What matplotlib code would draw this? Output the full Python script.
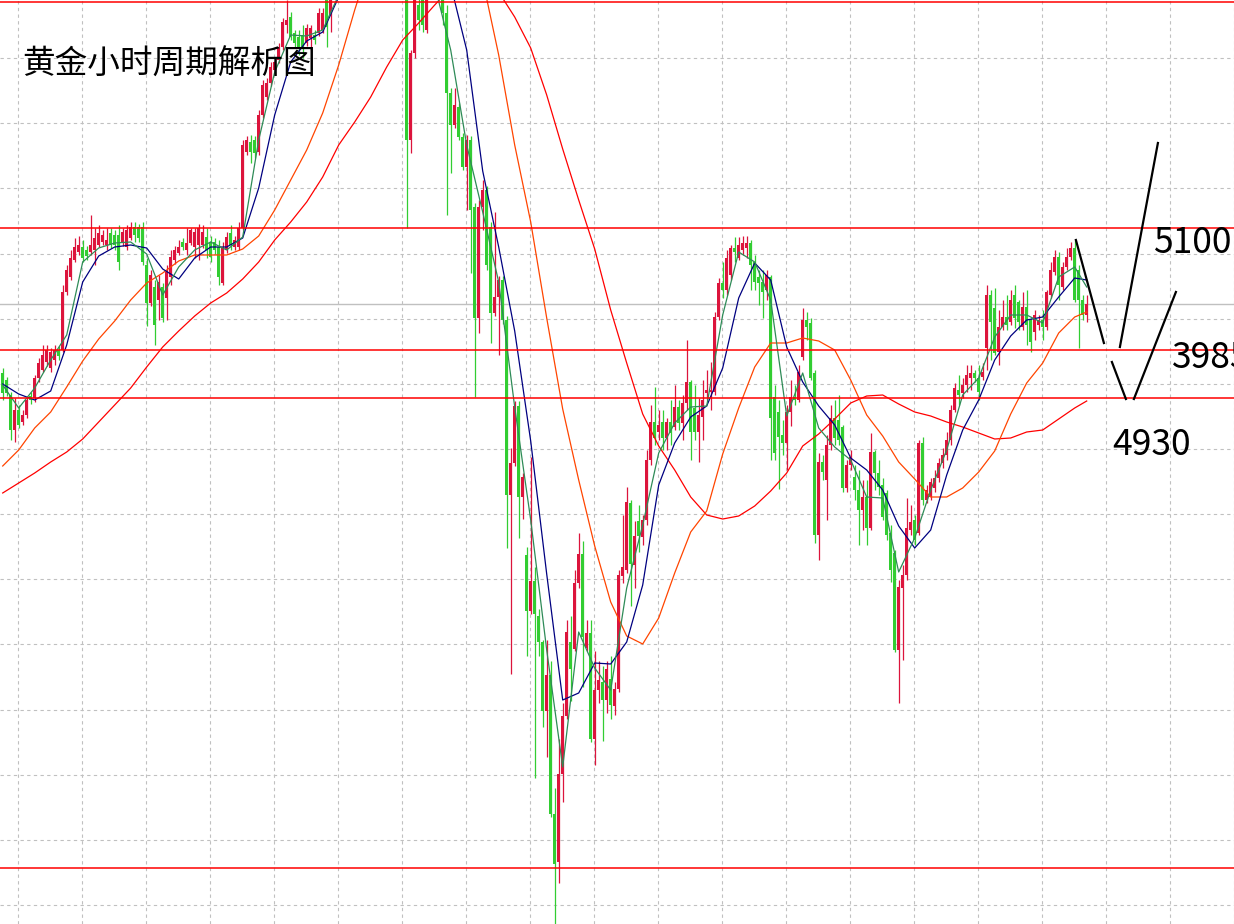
import numpy as np
import matplotlib
matplotlib.use('Agg')
import matplotlib.pyplot as plt

plt.rcParams['font.family'] = ['Noto Sans CJK SC', 'DejaVu Sans']

# 小时K线数据 (开, 高, 低, 收), 共272根
opens = [
    4955, 4948, 4933, 4898, 4918, 4906, 4913, 4932, 4930, 4950,
    4958, 4966, 4960, 4968, 4978, 4978, 5036, 5051, 5068, 5076,
    5081, 5078, 5076, 5078, 5083, 5086, 5083, 5095, 5093, 5093,
    5086, 5081, 5090, 5101, 5101, 5101, 5063, 5025, 5041, 5028,
    5041, 5030, 5051, 5068, 5075, 5086, 5078, 5085, 5081, 5083,
    5083, 5091, 5086, 5086, 5081, 5045, 5078, 5095, 5081, 5081,
    5100, 5176, 5186, 5188, 5176, 5213, 5231, 5245, 5258, 5268,
    5281, 5303, 5311, 5295, 5291, 5293, 5285, 5290, 5293, 5295,
    5298, 5328, 5313, 5343, 5358, 5373, 5368, 5388, 5403, 5398,
    5418, 5428, 5423, 5438, 5433, 5418, 5423, 5408, 5413, 5398,
    5388, 5358, 5188, 5275, 5323, 5328, 5298, 5340, 5355, 5350,
    5338, 5315, 5235, 5203, 5221, 5191, 5161, 5188, 5121, 5010,
    5121, 5138, 5101, 5015, 5031, 5048, 5008, 4833, 4865, 4922,
    4831, 4773, 4717, 4747, 4712, 4686, 4617, 4653, 4514, 4466,
    4554, 4612, 4686, 4679, 4745, 4774, 4680, 4695, 4589, 4638,
    4646, 4628, 4649, 4622, 4639, 4752, 4758, 4825, 4763, 4807,
    4791, 4808, 4868, 4906, 4896, 4906, 4890, 4906, 4901, 4921,
    4905, 4925, 4946, 4920, 4896, 4911, 4935, 4936, 4936, 5011,
    5045, 5038, 5053, 5080, 5070, 5078, 5080, 5085, 5066, 5051,
    5046, 5038, 5051, 4931, 4916, 4893, 4885, 4916, 4931, 4928,
    4971, 5008, 5005, 4955, 4793, 4866, 4848, 4883, 4910, 4908,
    4901, 4840, 4863, 4851, 4838, 4818, 4831, 4800, 4876, 4855,
    4843, 4835, 4795, 4775, 4678, 4740, 4753, 4798, 4808, 4795,
    4885, 4828, 4831, 4840, 4850, 4865, 4873, 4888, 4918, 4938,
    4935, 4943, 4950, 4955, 4950, 4951, 4980, 5033, 5020, 4976,
    5001, 5011, 5006, 5033, 5026, 5001, 5021, 5008, 4996, 5003,
    5008, 5001, 5033, 5056, 5071, 5041, 5061, 5071, 5080, 5058,
    5028, 5013,
]
highs = [
    4960, 4951, 4936, 4930, 4923, 4918, 4932, 4936, 4953, 4970,
    4983, 4983, 4980, 4983, 4982, 5043, 5063, 5078, 5090, 5092,
    5088, 5082, 5113, 5100, 5103, 5098, 5100, 5100, 5098, 5103,
    5100, 5103, 5106, 5106, 5104, 5106, 5070, 5058, 5048, 5053,
    5045, 5063, 5078, 5082, 5088, 5090, 5100, 5100, 5100, 5104,
    5103, 5100, 5092, 5090, 5088, 5086, 5096, 5103, 5092, 5106,
    5188, 5192, 5193, 5192, 5218, 5248, 5250, 5266, 5270, 5285,
    5310, 5328, 5316, 5298, 5298, 5303, 5304, 5303, 5298, 5320,
    5320, 5333, 5348, 5365, 5380, 5382, 5395, 5410, 5412, 5425,
    5436, 5435, 5446, 5445, 5440, 5430, 5428, 5420, 5418, 5405,
    5392, 5365, 5278, 5345, 5333, 5335, 5335, 5362, 5368, 5360,
    5343, 5323, 5240, 5240, 5225, 5195, 5193, 5192, 5125, 5128,
    5148, 5142, 5106, 5116, 5052, 5052, 5012, 4880, 4927, 4927,
    4855, 4781, 4871, 4761, 4719, 4688, 4688, 4667, 4540, 4589,
    4625, 4708, 4712, 4758, 4795, 4787, 4708, 4708, 4677, 4667,
    4662, 4667, 4672, 4646, 4758, 4813, 4841, 4828, 4807, 4823,
    4813, 4878, 4923, 4941, 4918, 4918, 4910, 4928, 4943, 4928,
    4933, 4988, 4948, 4943, 4930, 4948, 4958, 4966, 5016, 5050,
    5066, 5078, 5083, 5091, 5091, 5092, 5092, 5088, 5073, 5058,
    5058, 5058, 5053, 4943, 4928, 4908, 4923, 4948, 4943, 4963,
    5020, 5016, 5010, 4958, 4875, 4873, 4893, 4923, 4928, 4933,
    4903, 4868, 4878, 4863, 4858, 4848, 4848, 4895, 4878, 4868,
    4850, 4838, 4803, 4778, 4748, 4763, 4830, 4823, 4813, 4888,
    4891, 4843, 4850, 4858, 4870, 4880, 4896, 4923, 4945, 4953,
    4950, 4963, 4963, 4958, 4963, 4965, 5043, 5038, 5040, 5018,
    5028, 5033, 5038, 5043, 5028, 5036, 5038, 5010, 5018, 5013,
    5018, 5038, 5066, 5078, 5076, 5066, 5080, 5086, 5088, 5063,
    5033, 5033,
]
lows = [
    4928, 4932, 4888, 4886, 4900, 4903, 4910, 4924, 4926, 4946,
    4956, 4962, 4956, 4963, 4968, 4976, 5033, 5048, 5066, 5073,
    5066, 5068, 5073, 5063, 5081, 5083, 5078, 5080, 5078, 5058,
    5082, 5078, 5088, 5086, 5086, 5063, 5002, 5022, 4983, 5008,
    5006, 5008, 5043, 5064, 5073, 5078, 5073, 5083, 5070, 5068,
    5080, 5070, 5066, 5074, 5043, 5043, 5075, 5078, 5078, 5078,
    5098, 5173, 5165, 5170, 5173, 5210, 5228, 5242, 5254, 5265,
    5278, 5295, 5288, 5281, 5273, 5270, 5282, 5278, 5284, 5292,
    5295, 5281, 5296, 5338, 5350, 5360, 5362, 5382, 5390, 5392,
    5410, 5415, 5418, 5425, 5410, 5412, 5400, 5402, 5390, 5380,
    5355, 5100, 5175, 5270, 5298, 5296, 5295, 5335, 5340, 5336,
    5303, 5113, 5155, 5200, 5188, 5158, 5118, 5055, 4931, 4995,
    5098, 5058, 4985, 5012, 4973, 5004, 4780, 4654, 4862, 4790,
    4809, 4672, 4714, 4550, 4672, 4601, 4571, 4511, 4390, 4445,
    4526, 4609, 4627, 4677, 4740, 4641, 4677, 4586, 4563, 4625,
    4587, 4615, 4609, 4613, 4636, 4745, 4755, 4722, 4740, 4776,
    4783, 4803, 4863, 4883, 4888, 4878, 4878, 4883, 4898, 4898,
    4888, 4918, 4868, 4888, 4866, 4888, 4928, 4918, 4933, 5008,
    5030, 5033, 5048, 5066, 5068, 5073, 5070, 5038, 5038, 5023,
    5010, 5028, 4868, 4868, 4839, 4873, 4858, 4902, 4923, 4926,
    4968, 4988, 4948, 4785, 4768, 4848, 4808, 4878, 4883, 4883,
    4836, 4836, 4858, 4828, 4783, 4798, 4783, 4798, 4838, 4833,
    4808, 4788, 4746, 4676, 4625, 4668, 4748, 4793, 4783, 4793,
    4823, 4825, 4828, 4836, 4846, 4860, 4868, 4883, 4916, 4923,
    4930, 4936, 4938, 4946, 4928, 4948, 4958, 4968, 4973, 4963,
    4998, 4998, 5003, 5000, 4998, 4998, 4983, 4976, 4988, 4998,
    4988, 4998, 5030, 5053, 5028, 5038, 5058, 5068, 5026, 4980,
    5008, 5006,
]
closes = [
    4935, 4935, 4898, 4918, 4903, 4913, 4928, 4928, 4950, 4965,
    4973, 4978, 4976, 4978, 4972, 5036, 5058, 5070, 5081, 5083,
    5070, 5072, 5083, 5090, 5095, 5093, 5088, 5083, 5083, 5066,
    5096, 5098, 5101, 5093, 5090, 5066, 5025, 5053, 5003, 5046,
    5010, 5056, 5071, 5078, 5081, 5081, 5085, 5098, 5096, 5100,
    5096, 5078, 5071, 5078, 5051, 5081, 5091, 5083, 5088, 5100,
    5183, 5188, 5176, 5175, 5213, 5243, 5245, 5261, 5266, 5281,
    5306, 5308, 5291, 5285, 5281, 5280, 5300, 5300, 5288, 5315,
    5315, 5301, 5343, 5358, 5373, 5368, 5388, 5403, 5398, 5418,
    5428, 5423, 5438, 5433, 5418, 5423, 5408, 5413, 5398, 5388,
    5368, 5188, 5275, 5338, 5308, 5303, 5328, 5355, 5350, 5345,
    5315, 5235, 5203, 5223, 5191, 5161, 5188, 5118, 5010, 5121,
    5138, 5063, 5015, 5031, 5048, 5008, 4833, 4865, 4922, 4831,
    4851, 4717, 4747, 4714, 4686, 4617, 4653, 4514, 4464, 4554,
    4612, 4696, 4659, 4745, 4774, 4691, 4695, 4589, 4638, 4648,
    4628, 4659, 4623, 4639, 4753, 4761, 4826, 4764, 4792, 4792,
    4808, 4868, 4906, 4890, 4903, 4890, 4906, 4895, 4921, 4905,
    4925, 4946, 4896, 4896, 4913, 4928, 4938, 4938, 5011, 5045,
    5038, 5070, 5080, 5076, 5083, 5085, 5085, 5063, 5046, 5045,
    5036, 5053, 4910, 4875, 4891, 4885, 4916, 4931, 4928, 4956,
    5008, 5001, 4950, 4793, 4866, 4856, 4883, 4910, 4890, 4888,
    4840, 4863, 4871, 4838, 4818, 4831, 4800, 4876, 4855, 4841,
    4811, 4793, 4758, 4678, 4741, 4753, 4800, 4806, 4788, 4885,
    4828, 4838, 4846, 4850, 4865, 4873, 4888, 4918, 4940, 4933,
    4943, 4953, 4955, 4950, 4936, 4956, 5033, 5006, 4975, 5001,
    5011, 5003, 5028, 5010, 5006, 5021, 5003, 4986, 5013, 5008,
    5001, 5036, 5058, 5071, 5043, 5061, 5071, 5080, 5028, 5028,
    5013, 5024,
]

# 均线 (每4根K线读一次)
ma_idx = list(range(0, 272, 4)) + [271]
ma_green = [
    4943, 4920, 4940, 4968, 4993, 5066, 5080, 5085, 5086, 5074,
    5033, 5061, 5078, 5086, 5078, 5091, 5188, 5256, 5293, 5292,
    5298, 5333, 5368, 5388, 5398, 5383, 5358, 5343, 5278, 5183,
    5116, 5046, 4921, 4808, 4678, 4561, 4696, 4660, 4638, 4740,
    4803, 4875, 4905, 4921, 4922, 5013, 5076, 5066, 5028, 4912,
    4955, 4900, 4881, 4868, 4831, 4830, 4756, 4790, 4838, 4878,
    4933, 4950, 4991, 5013, 5013, 5005, 5051, 5061, 5041,
]
ma_navy = [
    4944, 4934, 4928, 4937, 4983, 5046, 5072, 5081, 5083, 5080,
    5059, 5049, 5070, 5081, 5081, 5090, 5140, 5213, 5266, 5287,
    5296, 5331, 5358, 5383, 5403, 5408, 5398, 5378, 5343, 5278,
    5157, 5081, 4997, 4887, 4754, 4628, 4635, 4665, 4664, 4686,
    4743, 4843, 4885, 4911, 4922, 4960, 5030, 5065, 5048, 4981,
    4946, 4922, 4903, 4870, 4858, 4838, 4802, 4780, 4798, 4853,
    4898, 4928, 4968, 4992, 5008, 5011, 5031, 5050, 5048,
]
ma_orange = [
    4862, 4878, 4900, 4916, 4941, 4967, 4989, 5007, 5028, 5045,
    5055, 5067, 5073, 5073, 5073, 5079, 5092, 5118, 5148, 5178,
    5215, 5263, 5318, 5368, 5408, 5438, 5448, 5443, 5428, 5398,
    5348, 5273, 5183, 5106, 5010, 4919, 4848, 4782, 4726, 4692,
    4684, 4710, 4755, 4796, 4817, 4874, 4920, 4961, 4985, 4985,
    4990, 4987, 4978, 4948, 4913, 4892, 4866, 4849, 4831, 4831,
    4840, 4856, 4877, 4914, 4945, 4965, 4995, 5011, 5016,
]
ma_red = [
    4835, 4845, 4855, 4866, 4876, 4889, 4906, 4923, 4940, 4961,
    4981, 4997, 5012, 5025, 5035, 5049, 5066, 5088, 5106, 5126,
    5151, 5183, 5206, 5231, 5261, 5288, 5305, 5323, 5340, 5348,
    5346, 5336, 5311, 5280, 5233, 5179, 5128, 5079, 5018, 4965,
    4914, 4882, 4858, 4831, 4813, 4809, 4812, 4822, 4837, 4855,
    4882, 4894, 4909, 4925, 4932, 4933, 4924, 4916, 4912, 4906,
    4901, 4895, 4889, 4890, 4896, 4898, 4909, 4920, 4927,
]

# 压力/支撑位
levels = [5326, 5100, 4978, 4930, 4460]
last_price = 5024

# 走势预判折线 (K线序号, 价格)
path_lines = [
    ([268.3, 275.3], [5088, 4985]),
    ([277.3, 280.8], [4966, 4929]),
    ([282.8, 293.3], [4929, 5036]),
    ([279.3, 288.8], [4981, 5185]),
]
labels = [('5100', 287.6, 5085), ('3985', 292.3, 4970), ('4930', 277.3, 4883)]

o = np.array(opens)
h = np.array(highs)
l = np.array(lows)
c = np.array(closes)
idx = np.arange(len(c))

fig = plt.figure(figsize=(12.34, 9.24), dpi=100)
ax = fig.add_axes([0, 0, 1, 1])
ax.set_xlim(-0.675, 307.825)
ax.set_ylim(4404, 5328)

# 网格
ax.set_xticks(np.arange(3.825, 308, 16))
ax.set_yticks(np.arange(4423, 5330, 65.15))
ax.grid(True, color='#c0c0c0', linestyle=(0, (3, 3)), linewidth=0.8, zorder=0)
ax.tick_params(length=0, labelbottom=False, labelleft=False)
for s in ax.spines.values():
    s.set_visible(False)

ax.axhline(last_price, color='#c0c0c0', linewidth=1.0, zorder=1)

# K线
up = c >= o
colors = np.where(up, '#dc143c', '#32cd32')
ax.vlines(idx, l, h, colors=colors, linewidth=0.9, zorder=2)
body_low = np.minimum(o, c)
body_h = np.maximum(np.abs(c - o), 1.5)
ax.bar(idx, body_h, width=0.7, bottom=body_low, color=colors, linewidth=0, zorder=3)

# 均线
ax.plot(ma_idx, ma_red, color='#ff0000', linewidth=0.9, zorder=4)
ax.plot(ma_idx, ma_orange, color='#ff4500', linewidth=0.9, zorder=4)
ax.plot(ma_idx, ma_navy, color='#000080', linewidth=0.9, zorder=4)
ax.plot(ma_idx, ma_green, color='#2e8b57', linewidth=0.9, zorder=4)

for lv in levels:
    ax.axhline(lv, color='#ff0000', linewidth=1.1, zorder=5)

for xs, ys in path_lines:
    ax.plot(xs, ys, color='black', linewidth=1.6, zorder=6)

for txt, x, y in labels:
    ax.text(x, y, txt, fontsize=25.5, color='black', ha='left', va='center', zorder=7)

ax.text(22 / 1234, 1 - 65 / 924, '黄金小时周期解析图', transform=ax.transAxes,
        fontsize=23.5, color='black', ha='left', va='center', zorder=7)

fig.savefig('out.png', dpi=100)
